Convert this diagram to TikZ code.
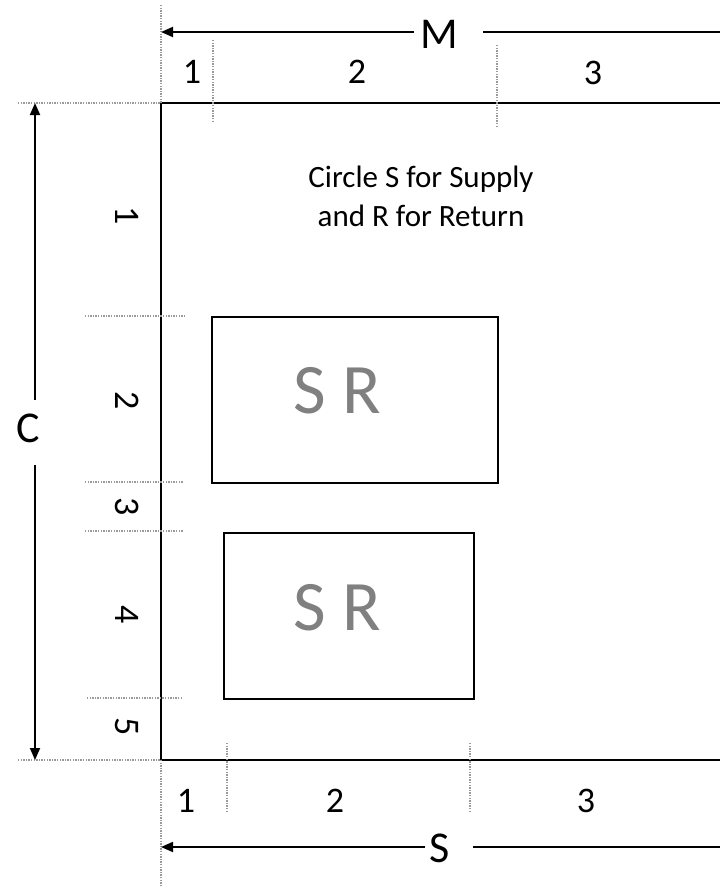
\documentclass[tikz,border=0pt]{standalone}
\usepackage{fontspec}
\setmainfont{Carlito}
\usetikzlibrary{arrows.meta}
\definecolor{srgray}{HTML}{808080}
\definecolor{guidegray}{HTML}{9A9A9A}
\tikzset{
  frameline/.style={line width=2.5pt, black},
  boxline/.style={draw, line width=2pt, black},
  dimline/.style={line width=1.8pt, black},
  dimarrow/.style={dimline, -{Triangle[length=12pt,width=10pt]}},
  guide/.style={line width=1.4pt, guidegray, dash pattern=on 1.3pt off 1.3pt},
  lbl/.style={font=\fontsize{36}{38}\selectfont, inner sep=0pt},
  rlbl/.style={lbl, rotate=-90},
  biglbl/.style={font=\fontsize{44}{46}\selectfont, inner sep=0pt},
  sr/.style={font=\fontsize{71}{73}\selectfont, text=srgray, inner sep=0pt},
  note/.style={font=\fontsize{31}{34}\selectfont, inner sep=0pt, anchor=base},
}
\begin{document}
\begin{tikzpicture}[x=1pt, y=-1pt]
\useasboundingbox (0,0) rectangle (720,887);

% main frame
\coordinate (fTL) at (161,103);
\coordinate (fBL) at (161,760);
\coordinate (fTR) at (730,103);
\coordinate (fBR) at (730,760);
\draw[frameline] (fTR) -- (fTL) -- (fBL) -- (fBR);

% inner boxes
\node[boxline, minimum width=286pt, minimum height=166pt, anchor=north west] (box1) at (211,316) {};
\node[boxline, minimum width=250pt, minimum height=166pt, anchor=north west] (box2) at (223,532) {};
\node[sr] (sr1) at (337,391) {S R};
\node[sr] (sr2) at (337,608) {S R};

% note
\node[note] (note1) at (421,187) {Circle S for Supply};
\node[note] (note2) at (421,226) {and R for Return};

% top guides
\coordinate (gt0a) at (161,5);   \coordinate (gt0b) at (161,103);
\coordinate (gt1a) at (213,40);  \coordinate (gt1b) at (213,123);
\coordinate (gt2a) at (497,45);  \coordinate (gt2b) at (497,127);
\draw[guide] (gt0a) -- (gt0b);
\draw[guide] (gt1a) -- (gt1b);
\draw[guide] (gt2a) -- (gt2b);

% top dimension M
\node[biglbl] (M) at (439,34) {M};
\coordinate (Mtip) at (161,32);
\coordinate (Mend) at (730,32);
\coordinate (Ml) at (414,32);
\coordinate (Mr) at (483,32);
\draw[dimarrow] (Ml) -- (Mtip);
\draw[dimline] (Mr) -- (Mend);

\node[lbl] (t1) at (192,72) {1};
\node[lbl] (t2) at (357,72) {2};
\node[lbl] (t3) at (593,73) {3};

% bottom guides
\coordinate (gb0a) at (161,760); \coordinate (gb0b) at (161,887);
\coordinate (gb1a) at (227,743); \coordinate (gb1b) at (227,811);
\coordinate (gb2a) at (470,743); \coordinate (gb2b) at (470,811);
\draw[guide] (gb0a) -- (gb0b);
\draw[guide] (gb1a) -- (gb1b);
\draw[guide] (gb2a) -- (gb2b);

\node[lbl] (b1) at (186,801) {1};
\node[lbl] (b2) at (335,801) {2};
\node[lbl] (b3) at (586,801) {3};

% bottom dimension S
\node[biglbl] (S) at (440,848) {S};
\coordinate (Stip) at (161,847);
\coordinate (Send) at (730,847);
\coordinate (Sl) at (425,847);
\coordinate (Sr) at (473,847);
\draw[dimarrow] (Sl) -- (Stip);
\draw[dimline] (Sr) -- (Send);

% left guides
\coordinate (gl0a) at (18,103);  \coordinate (gl0b) at (161,103);
\coordinate (gl1a) at (85,316);  \coordinate (gl1b) at (185,316);
\coordinate (gl2a) at (85,482);  \coordinate (gl2b) at (183,482);
\coordinate (gl3a) at (85,531);  \coordinate (gl3b) at (183,531);
\coordinate (gl4a) at (87,698);  \coordinate (gl4b) at (183,698);
\coordinate (gl5a) at (18,760);  \coordinate (gl5b) at (161,760);
\draw[guide] (gl0a) -- (gl0b);
\draw[guide] (gl1a) -- (gl1b);
\draw[guide] (gl2a) -- (gl2b);
\draw[guide] (gl3a) -- (gl3b);
\draw[guide] (gl4a) -- (gl4b);
\draw[guide] (gl5a) -- (gl5b);

% left dimension C
\node[biglbl] (C) at (28,428) {C};
\coordinate (Ctop) at (35,103);
\coordinate (Cbot) at (35,760);
\coordinate (Cu) at (35,400);
\coordinate (Cd) at (35,465);
\draw[dimarrow] (Cu) -- (Ctop);
\draw[dimarrow] (Cd) -- (Cbot);

\node[rlbl] (l1) at (127,216) {1};
\node[rlbl] (l2) at (127,401) {2};
\node[rlbl] (l3) at (127,507) {3};
\node[rlbl] (l4) at (127,615) {4};
\node[rlbl] (l5) at (127,727) {5};
\end{tikzpicture}
\end{document}
